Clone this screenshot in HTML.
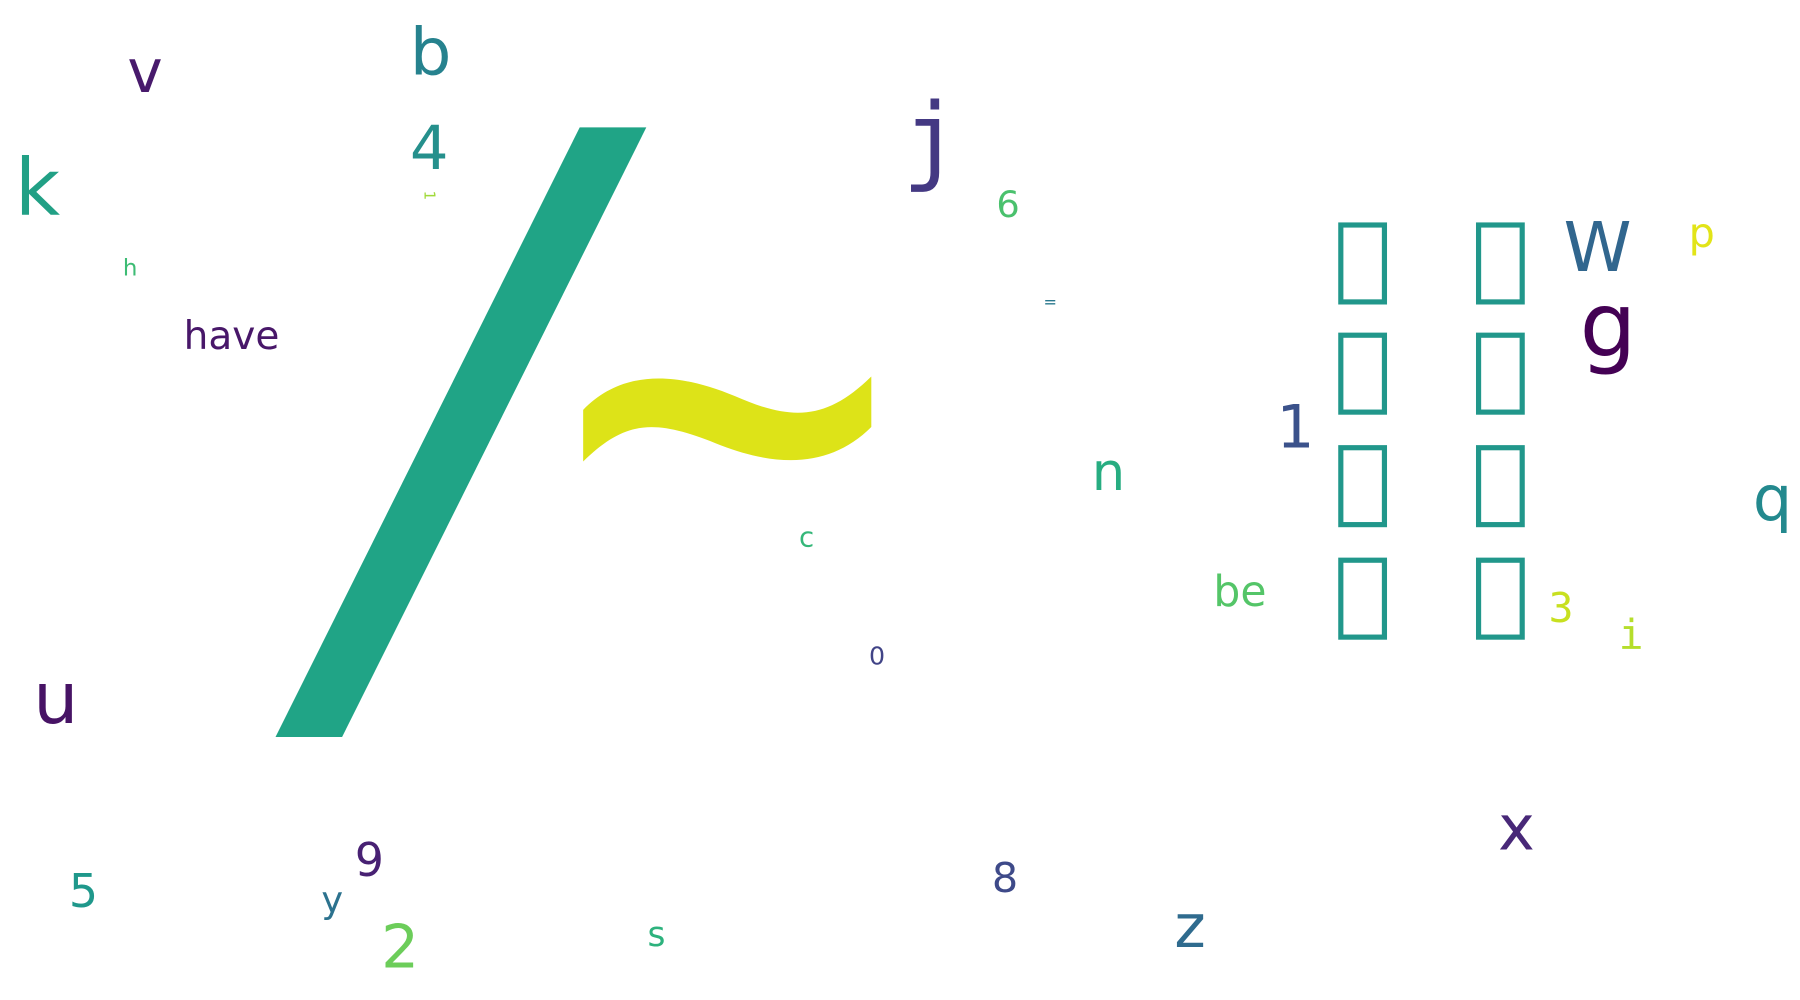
<!DOCTYPE html>
<html><head><meta charset="utf-8"><style>
html,body{margin:0;padding:0;background:#fff;width:1800px;height:1000px;overflow:hidden}
svg text{font-family:"DejaVu Sans","Liberation Sans","Noto Sans CJK SC",sans-serif}
</style></head><body>
<svg width="1800" height="1000" viewBox="0 0 1568 871.1" xmlns="http://www.w3.org/2000/svg">
<rect width="1568" height="872" fill="#fff"/>
<polygon points="505,111 563,111 298,642 240,642" fill="#20a486"/>
<path fill="#dde318" d="M508,357 C540,324 585,322 640,345 C690,367 720,366 759,328 L759,372 C725,406 680,408 628,388 C570,364 545,366 508,402 Z"/>
<g fill="none" stroke="#21978b" stroke-width="4.5">
<rect x="1168" y="196" width="38" height="67"/><rect x="1288" y="196" width="38" height="67"/>
<rect x="1168" y="292" width="38" height="67"/><rect x="1288" y="292" width="38" height="67"/>
<rect x="1168" y="390" width="38" height="67"/><rect x="1288" y="390" width="38" height="67"/>
<rect x="1168" y="488" width="38" height="67"/><rect x="1288" y="488" width="38" height="67"/>
</g>
<text x="357" y="65" font-size="57" fill="#26828e">b</text>
<text x="357" y="147" font-size="53" fill="#25908c">4</text>
<text x="0" y="0" font-size="13" fill="#a0da39" transform="translate(370,166) rotate(90)">1</text>
<text x="13" y="187" font-size="68" fill="#21a085">k</text>
<text x="111" y="80" font-size="52" fill="#481a6c">v</text>
<text x="107" y="240" font-size="20" fill="#3dbc74">h</text>
<text x="160" y="304" font-size="34" fill="#481769">have</text>
<text x="786" y="150" font-size="84" fill="#443983" style="font-family:'DejaVu Sans Mono',monospace">j</text>
<text x="868" y="189" font-size="32" fill="#4ac16d">6</text>
<text x="909" y="268" font-size="14" fill="#2a788e">=</text>
<text x="696" y="476" font-size="24" fill="#35b779">c</text>
<text x="757" y="579" font-size="22" fill="#414487">0</text>
<text x="951" y="427" font-size="46" fill="#27ad81">n</text>
<text x="1112" y="390" font-size="52" fill="#3b528b">1</text>
<text x="1057" y="528" font-size="37" fill="#54c568">be</text>
<text x="1362" y="236" font-size="60" fill="#31668e">W</text>
<text x="1376" y="310" font-size="78" fill="#440154">g</text>
<text x="1471" y="215" font-size="36" fill="#e2e418">p</text>
<text x="1527" y="453" font-size="54" fill="#23898e">q</text>
<text x="1349" y="542" font-size="36" fill="#c8e020" style="font-family:'DejaVu Sans Mono',monospace">3</text>
<text x="1410" y="565" font-size="36" fill="#b5de2b" style="font-family:'DejaVu Sans Mono',monospace">i</text>
<text x="29" y="630" font-size="62" fill="#471365">u</text>
<text x="1305" y="740" font-size="54" fill="#482878">x</text>
<text x="309" y="763" font-size="40" fill="#482173">9</text>
<text x="60" y="790" font-size="40" fill="#1f988b">5</text>
<text x="280" y="795" font-size="32" fill="#2c728e">y</text>
<text x="864" y="777" font-size="36" fill="#3e4a89">8</text>
<text x="332" y="843" font-size="52" fill="#6ccd5a">2</text>
<text x="564" y="824" font-size="30" fill="#2db27d">s</text>
<text x="1023" y="825" font-size="52" fill="#2f6b8e">z</text>
</svg>
</body></html>
